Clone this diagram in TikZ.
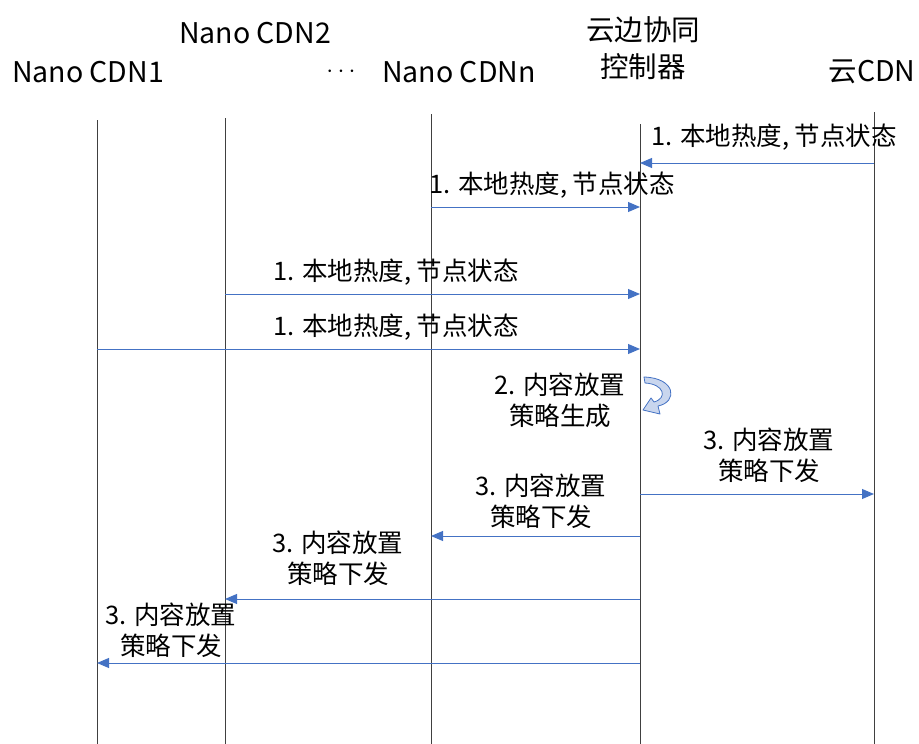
\documentclass[tikz,border=0pt]{standalone}
\usepackage{fontspec}
\setmainfont{Noto Sans CJK SC}
\usetikzlibrary{arrows.meta}
\definecolor{msgblue}{HTML}{4472C4}
\definecolor{lifegray}{HTML}{404040}
\definecolor{bandfill}{HTML}{C9D6EE}
\begin{document}
\begin{tikzpicture}[x=1pt,y=-1pt,
 lifeline/.style={draw=lifegray, line width=1pt},
 msg/.style={draw=msgblue, line width=1pt, -{Triangle[length=12pt,width=10pt]}},
 head/.style={font=\fontsize{28.5}{37}\selectfont, align=center, inner sep=0pt},
 lab/.style={font=\fontsize{25.5}{31}\selectfont, align=center, inner sep=0pt}]
\useasboundingbox (0,0) rectangle (919,744);
% headers
\node[head] (h1) at (88,72) {Nano CDN1};
\node[head] (h2) at (255,33) {Nano CDN2};
\node[head] (hdots) at (341,72) {$\cdots$};
\node[head] (hn) at (459,72) {Nano CDNn};
\node[head] (hc) at (643,48) {云边协同\\控制器};
\node[head] (hy) at (872,72) {云CDN};
% lifelines
\coordinate (t1) at (97,120);  \coordinate (b1) at (97,744);
\coordinate (t2) at (225,118); \coordinate (b2) at (225,744);
\coordinate (tn) at (431,114); \coordinate (bn) at (431,744);
\coordinate (tc) at (640,124); \coordinate (bc) at (640,744);
\coordinate (ty) at (874,112); \coordinate (by) at (874,744);
\draw[lifeline] (t1) -- (b1);
\draw[lifeline] (t2) -- (b2);
\draw[lifeline] (tn) -- (bn);
\draw[lifeline] (tc) -- (bc);
\draw[lifeline] (ty) -- (by);
% message end points
\coordinate (m1s) at (874,163); \coordinate (m1e) at (640,163);
\coordinate (m2s) at (431,207); \coordinate (m2e) at (640,207);
\coordinate (m3s) at (225,294); \coordinate (m3e) at (640,294);
\coordinate (m4s) at (97,349);  \coordinate (m4e) at (640,349);
\coordinate (m6s) at (640,494); \coordinate (m6e) at (874,494);
\coordinate (m7s) at (640,536); \coordinate (m7e) at (431,536);
\coordinate (m8s) at (640,599); \coordinate (m8e) at (225,599);
\coordinate (m9s) at (640,663); \coordinate (m9e) at (97,663);
\draw[msg] (m1s) -- (m1e);
\draw[msg] (m2s) -- (m2e);
\draw[msg] (m3s) -- (m3e);
\draw[msg] (m4s) -- (m4e);
\draw[msg] (m6s) -- (m6e);
\draw[msg] (m7s) -- (m7e);
\draw[msg] (m8s) -- (m8e);
\draw[msg] (m9s) -- (m9e);
% labels
\node[lab] (l1) at (774,137) {1. 本地热度, 节点状态};
\node[lab] (l2) at (552,185) {1. 本地热度, 节点状态};
\node[lab] (l3) at (396,272) {1. 本地热度, 节点状态};
\node[lab] (l4) at (396,327) {1. 本地热度, 节点状态};
\node[lab] (l5) at (560,400) {2. 内容放置\\策略生成};
\node[lab] (l6) at (769,455) {3. 内容放置\\策略下发};
\node[lab] (l7) at (541,501) {3. 内容放置\\策略下发};
\node[lab] (l8) at (338,558) {3. 内容放置\\策略下发};
\node[lab] (l9) at (171,630) {3. 内容放置\\策略下发};
% self curved arrow
\draw[draw=msgblue, line width=0.8pt, fill=bandfill, line join=round]
  (644,377) .. controls (676,378) and (678,402) .. (658,406)
  -- (660,414) -- (643,410) -- (651,398) -- (654,402)
  .. controls (668,398) and (664,384) .. (645,383) -- cycle;
\end{tikzpicture}
\end{document}
